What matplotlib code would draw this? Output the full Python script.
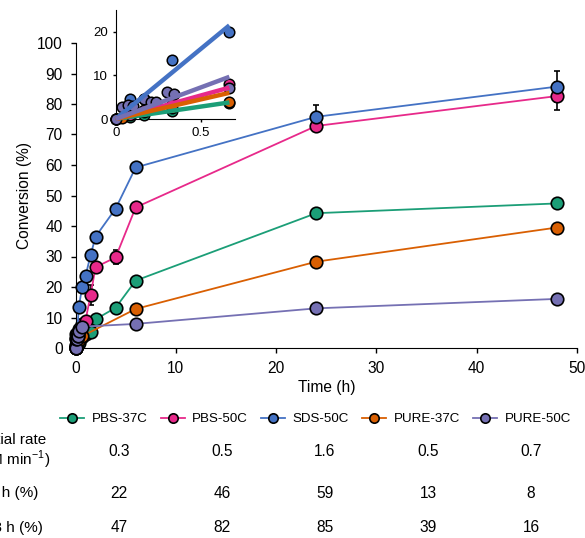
import numpy as np
import matplotlib
matplotlib.use("Agg")
import matplotlib.pyplot as plt

plt.rcParams['font.family'] = ['Liberation Sans', 'DejaVu Sans']
plt.rcParams['mathtext.fontset'] = 'custom'
plt.rcParams['mathtext.rm'] = 'Liberation Sans'

# series data (time in h, conversion in %)
names = ['PBS-37C', 'PBS-50C', 'SDS-50C', 'PURE-37C', 'PURE-50C']
colors = ['#1b9e77', '#e7298a', '#4472c4', '#d95f02', '#7570b3']

t_pbs37 = [0, 0.083, 0.167, 0.333, 0.667, 1, 1.5, 2, 4, 6, 24, 48]
y_pbs37 = [0, 0.5, 1.0, 1.8, 3.6, 4.5, 5.1, 9.4, 13.2, 22.1, 44.2, 47.4]
e_pbs37 = [0, 0.3, 0.3, 0.3, 0.3, 0.3, 0.5, 0.5, 0.6, 0.8, 0.8, 1.5]

t_pbs50 = [0, 0.083, 0.167, 0.333, 0.667, 1, 1.5, 2, 4, 6, 24, 48]
y_pbs50 = [0, 1.0, 2.0, 3.5, 8.0, 9.0, 17.3, 26.5, 29.7, 46.1, 72.8, 82.6]
e_pbs50 = [0, 0.3, 0.3, 0.3, 0.5, 0.5, 3.3, 0.8, 2.3, 0.8, 1.0, 4.6]

t_sds50 = [0, 0.083, 0.167, 0.333, 0.667, 1, 1.5, 2, 4, 6, 24, 48]
y_sds50 = [0, 4.5, 4.5, 13.6, 20.0, 23.6, 30.4, 36.5, 45.7, 59.2, 75.8, 85.7]
e_sds50 = [0, 0.5, 0.5, 0.5, 0.5, 0.5, 0.8, 0.8, 0.8, 1.5, 3.8, 5.0]

t_pure37 = [0, 0.035, 0.167, 0.333, 0.667, 6, 24, 48]
y_pure37 = [0, 0.3, 1.5, 2.5, 3.9, 12.8, 28.3, 39.5]
e_pure37 = [0, 0.2, 0.3, 0.3, 0.3, 0.6, 1.5, 0.8]

t_pure50 = [0, 0.035, 0.07, 0.1, 0.167, 0.21, 0.236, 0.3, 0.34, 0.667, 6, 24, 48]
y_pure50 = [0, 2.8, 3.2, 3.0, 4.5, 3.9, 4.0, 6.2, 5.7, 7.0, 7.9, 13.0, 16.1]
e_pure50 = [0, 0.2, 0.2, 0.2, 0.2, 0.2, 0.2, 0.2, 0.2, 0.3, 0.5, 0.6, 0.6]

# initial linear fits in the inset (% per h)
fit_slope = [5.7, 10.8, 32.2, 9.0, 14.5]
fit_end = 0.667

# table below the chart
row_labels = ['Initial rate\n(\u03bcM min$^{-1}$)', '6 h (%)', '48 h (%)']
rate = ['0.3', '0.5', '1.6', '0.5', '0.7']
conv6 = ['22', '46', '59', '13', '8']
conv48 = ['47', '82', '85', '39', '16']

ts = [t_pbs37, t_pbs50, t_sds50, t_pure37, t_pure50]
ys = [y_pbs37, y_pbs50, y_sds50, y_pure37, y_pure50]
es = [e_pbs37, e_pbs50, e_sds50, e_pure37, e_pure50]

W, H = 585, 538
fig = plt.figure(figsize=(W / 100, H / 100), dpi=100)

ax = fig.add_axes([75.5 / W, 1 - 348 / H, (577 - 75.5) / W, (348 - 43) / H])
for i in range(5):
    ax.errorbar(ts[i], ys[i], yerr=es[i], fmt='none', ecolor='black',
                elinewidth=1.2, capsize=2.5, capthick=1.2, zorder=2 + i * 0.1, clip_on=False)
    ax.plot(ts[i], ys[i], '-o', color=colors[i], lw=1.3, ms=9, mec='black',
            mew=1.2, label=names[i], zorder=3 + i * 0.1, clip_on=False)

ax.set_xlim(0, 50)
ax.set_ylim(0, 100)
ax.set_xticks(range(0, 51, 10))
ax.set_yticks(range(0, 101, 10))
ax.spines['top'].set_visible(False)
ax.spines['right'].set_visible(False)
ax.tick_params(labelsize=11.2, length=3.6, width=1, direction='out', pad=5.5)
ax.set_xlabel('Time (h)', fontsize=11.2, labelpad=3)
ax.set_ylabel('Conversion (%)', fontsize=11.2, labelpad=4)

# inset with early time points
ins = fig.add_axes([115.7 / W, 1 - 119 / H, (235 - 115.7) / W, (119 - 10) / H])
for i in range(5):
    t = np.array(ts[i])
    y = np.array(ys[i])
    m = t <= 0.7
    ins.plot(t[m], y[m], 'o', color=colors[i], ms=7.6, mec='black', mew=1.1,
             zorder=3 + i * 0.1, clip_on=False)
for i in [0, 1, 3, 4, 2]:
    xx = np.array([0, fit_end])
    ins.plot(xx, fit_slope[i] * xx, '-', color=colors[i], lw=3.2,
             solid_capstyle='butt', zorder=5 + i * 0.1, clip_on=False)
ins.set_xlim(0, 0.7)
ins.set_ylim(0, 25)
ins.set_xticks([0, 0.5])
ins.set_xticklabels(['0', '0.5'])
ins.set_yticks([0, 10, 20])
ins.spines['top'].set_visible(False)
ins.spines['right'].set_visible(False)
ins.patch.set_alpha(0)
ins.tick_params(labelsize=9.5, length=2.5, width=1, pad=3)

handles, labels = ax.get_legend_handles_labels()
fig.legend(handles, labels, loc='center', bbox_to_anchor=(315.5 / W, 1 - 419 / H),
           ncol=5, frameon=False, fontsize=9.6, markerscale=0.75,
           handlelength=1.8, handletextpad=0.55, columnspacing=1.0, borderpad=0)

# table
col_x = [119, 222, 325, 428, 531]
row_y = [452, 493, 528]
for j, lab in enumerate(row_labels):
    fig.text(13.5 / W, 1 - row_y[j] / H, lab, ha='center', va='center',
             fontsize=11, multialignment='center', linespacing=1.1)
for vals, yy in zip([rate, conv6, conv48], row_y):
    for xx, v in zip(col_x, vals):
        fig.text(xx / W, 1 - yy / H, v, ha='center', va='center', fontsize=11.2)

fig.savefig('out.png', dpi=100)
